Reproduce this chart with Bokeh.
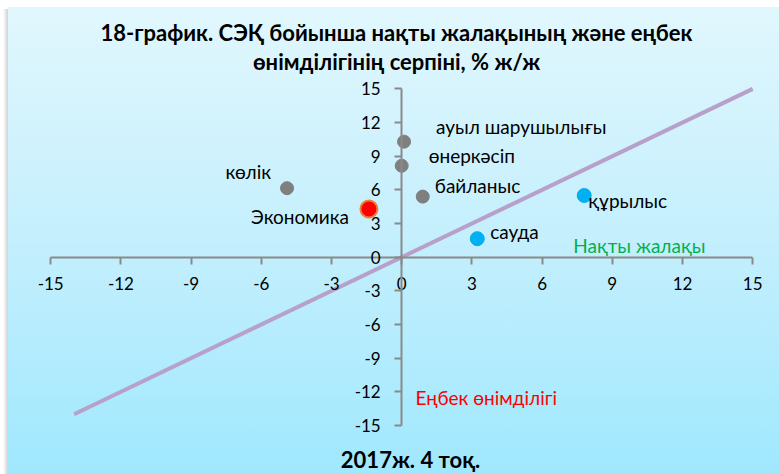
from bokeh.plotting import figure
from bokeh.models import FixedTicker, Label
from bokeh.core.properties import value
from bokeh.embed import file_html
from bokeh.resources import INLINE

# ---- data ----
title_lines = ["18-график. СЭҚ бойынша нақты жалақының және еңбек",
               "өнімділігінің серпіні, % ж/ж"]
period_label = "2017ж. 4 тоқ."
x_axis_name = "Нақты жалақы"
y_axis_name = "Еңбек өнімділігі"
ticks = [-15, -12, -9, -6, -3, 0, 3, 6, 9, 12, 15]

gray_names = ["ауыл шарушылығы", "өнеркәсіп", "байланыс", "көлік"]
gray_wage = [0.1, 0.0, 0.9, -4.9]
gray_prod = [10.3, 8.15, 5.4, 6.15]

blue_names = ["сауда", "құрылыс"]
blue_wage = [3.23, 7.8]
blue_prod = [1.65, 5.5]

econ_names = ["Экономика"]
econ_wage = [-1.4]
econ_prod = [4.3]

parity_x = [-14, 15]
parity_y = [-14, 15]

# ---- styling (label placement in pixels) ----
gray_style = [("left", 32, -15), ("left", 27, -10), ("left", 12, -11), ("right", -16, -17)]
blue_style = [("left", 13, -7), ("left", 4, 5)]
econ_style = [("right", -20, 8)]

FONT = "Lato"

p = figure(width=779, height=474, x_range=(-17.145, 16.145), y_range=(-19.37, 22.88),
           output_backend="svg", toolbar_location=None,
           min_border_left=0, min_border_right=0, min_border_top=0, min_border_bottom=0,
           border_fill_color=None, background_fill_color=None, outline_line_color=None)
p.styles = {"background": (
    "linear-gradient(to bottom, #e1f7fd 0%, #c4effd 50%, #a0e8fe 100%) 8px 7px / calc(100% - 8px) calc(100% - 7px) no-repeat, "
    "linear-gradient(to right, rgba(0,0,0,0) 0%, rgba(0,0,0,0.18) 100%) 3px 9px / 5px calc(100% - 9px) no-repeat, "
    "#ffffff")}
p.grid.visible = False

for ax in (p.xaxis[0], p.yaxis[0]):
    ax.fixed_location = 0
    ax.bounds = (-15, 15)
    ax.ticker = FixedTicker(ticks=ticks)
    ax.major_label_overrides = {t: str(t) for t in ticks}
    ax.axis_line_color = "#8a8a8a"
    ax.axis_line_width = 2
    ax.major_tick_line_color = "#8a8a8a"
    ax.major_tick_line_width = 2
    ax.major_tick_in = 0
    ax.major_tick_out = 7
    ax.minor_tick_in = 0
    ax.minor_tick_out = 0
    ax.major_label_text_font = FONT
    ax.major_label_text_font_size = "17px"
    ax.major_label_text_color = "#000000"
p.xaxis[0].major_label_standoff = 13
p.yaxis[0].major_label_standoff = 14

p.line(parity_x, parity_y, line_color="#b7a0c9", line_width=4)

p.scatter(gray_wage, gray_prod, size=13, fill_color="#7f7f7f", line_color="#7f7f7f")
p.scatter(blue_wage, blue_prod, size=14, fill_color="#00b0f0", line_color="#00b0f0")
p.scatter(econ_wage, econ_prod, size=17, fill_color="#ff0000", line_color="#e8823a", line_width=2)


def put_labels(names, xs, ys, styles):
    for n, x, y, (al, dx, dy) in zip(names, xs, ys, styles):
        p.text(x=[x], y=[y], text=[n], x_offset=dx, y_offset=dy,
               text_align=al, text_baseline="middle",
               text_font=value(FONT), text_font_size="19px", text_color="#000000")


put_labels(gray_names, gray_wage, gray_prod, gray_style)
put_labels(blue_names, blue_wage, blue_prod, blue_style)
put_labels(econ_names, econ_wage, econ_prod, econ_style)

p.add_layout(Label(x=7.33, y=1.04, text=x_axis_name, text_align="left", text_baseline="middle",
                   text_font=FONT, text_font_size="19px", text_color="#00b050"))
p.add_layout(Label(x=0.59, y=-12.48, text=y_axis_name, text_align="left", text_baseline="middle",
                   text_font=FONT, text_font_size="19px", text_color="#ff0000"))

for txt, yy in zip(title_lines, [20.0, 17.4]):
    p.add_layout(Label(x=-0.22, y=yy, text=txt, text_align="center", text_baseline="middle",
                       text_font=FONT, text_font_size="22px", text_font_style="bold",
                       text_color="#000000"))
p.add_layout(Label(x=0.38, y=-18.05, text=period_label, text_align="center", text_baseline="middle",
                   text_font=FONT, text_font_size="22px", text_font_style="bold",
                   text_color="#000000"))

open("out.html", "w").write(file_html(p, INLINE))
